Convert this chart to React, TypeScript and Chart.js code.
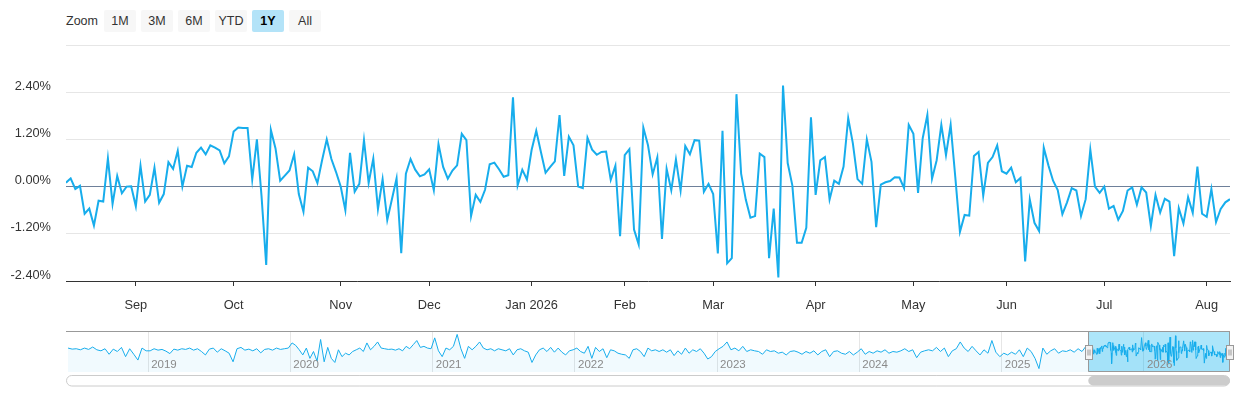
import { useEffect, useRef } from 'react';
import { Chart, registerables } from 'chart.js';

Chart.register(...registerables);

// ---------- data ----------
const START_DATE = '2025-08-11';
const HOLIDAYS = [
  '2025-09-01', '2025-11-27', '2025-12-25', '2026-01-01', '2026-01-19',
  '2026-02-16', '2026-04-03', '2026-05-25', '2026-06-19', '2026-07-03',
];

// daily returns (%), one per trading day from START_DATE
const RETURNS = [
  0.10, 0.21, -0.06, 0.02, -0.69, -0.56, -0.99, -0.36, -0.38, 0.72,
  -0.44, 0.27, -0.17, 0.00, 0.01, -0.50, 0.53, -0.38, -0.21, 0.48,
  -0.41, -0.19, 0.62, 0.45, 0.91, 0.00, 0.53, 0.50, 0.86, 0.99,
  0.82, 1.05, 0.99, 0.92, 0.59, 0.77, 1.40, 1.50, 1.49, 1.49,
  0.18, 1.20, -0.25, -1.99, 1.44, 0.97, 0.15, 0.28, 0.41, 0.82,
  -0.19, -0.64, 0.48, 0.39, 0.09, 0.67, 1.20, 0.70, 0.37, 0.00,
  -0.60, 0.86, -0.13, 0.07,
  1.18, 0.09, 0.71, -0.57, 0.19, -0.85, -0.32, 0.21, -1.69, 0.33,
  0.70, 0.43, 0.26, 0.31, 0.44, -0.09, 1.08, 0.50, 0.20, 0.41,
  0.54, 1.34, 1.18, -0.75, -0.21, -0.39, -0.08, 0.57, 0.61, 0.44,
  0.25, 0.29, 2.27, 0.03, 0.43, 0.18, 0.93, 1.42, 0.88, 0.35,
  0.50, 0.64, 1.82, 0.27, 1.27, 1.05, 0.00, -0.04, 1.24, 0.94,
  0.81, 0.88, 0.89, 0.17, 0.53, -1.26, 0.80, 0.95, -1.09, -1.47,
  1.50, 1.05,
  0.31, 0.74, -1.33, 0.45, -0.09, 0.69, -0.10, 1.03, 0.82, 1.18,
  1.17, -0.13, 0.07, -0.19, -1.70, 1.42, -1.95, -1.82, 2.35, 0.33,
  -0.33, -0.79, -0.75, 0.84, 0.75, -1.82, -0.56, -2.31, 2.57, 0.60,
  0.03, -1.43, -1.43, -1.05, 1.76, -0.21, 0.67, 0.75, -0.33, 0.15,
  0.07, 0.51, 1.74, 1.10, 0.19, 0.07, 1.20, 0.63, -1.03, 0.05,
  0.11, 0.14, 0.24, 0.23, -0.04, 1.57, 1.34, -0.16, 1.23, 1.82,
  0.20, 0.67,
  1.57, 0.80, 1.57, 0.24, -1.15, -0.72, -0.74, 0.78, 0.88, -0.23,
  0.60, 0.75, 1.05, 0.39, 0.33, 0.48, 0.11, 0.22, -1.90, -0.33,
  -0.92, -1.13, 0.99, 0.54, 0.15, -0.09, -0.70, -0.40, -0.04, -0.10,
  -0.75, -0.32, 0.94, 0.00, -0.16, 0.00, -0.56, -0.49, -0.84, -0.62,
  -0.10, -0.02, -0.46, -0.02, -0.15, -1.00, -0.21, -0.66, -0.31, -0.38,
  -1.77, -0.55, -0.94, -0.27, -0.67, 0.51, -0.69, -0.77, -0.06, -0.90,
  -0.57, -0.40, -0.32,
];

const Y_TICKS = [-2.4, -1.2, 0, 1.2, 2.4, 3.6];
const Y_MIN = -2.4;
const Y_MAX = 3.6;
const MONTH_NAMES = ['Jan', 'Feb', 'Mar', 'Apr', 'May', 'Jun', 'Jul', 'Aug', 'Sep', 'Oct', 'Nov', 'Dec'];

const ZOOM_BUTTONS = ['1M', '3M', '6M', 'YTD', '1Y', 'All'];
const SELECTED_BUTTON = '1Y';

// navigator history (sampled, %), per calendar year before the 1Y window
const NAV_START = '2018-06-04';
const NAV_2018 = [0.56, 0.39, 0.45, 0.28, 0.56, 0.34, 0.73, 0.28, 0.11, 0.45, -0.45, 0.39, 0.0, 0.67, -0.84, 0.45, -0.45, -1.40, 0.56, 0.11];
const NAV_2019 = [0.11, 0.45, 0.22, 0.34, 0.06, -0.34, 0.39, 0.22, 0.45, 0.34, 0.56, 0.22, 0.45, 0.0, -0.56, 0.39, 0.56, -0.11, 0.45, 0.11, -0.28, -1.68, 0.45, 0.67, 0.22, 0.39, 0.11, 0.45, -0.22, 0.34, 0.45, 0.22, 0.56, 0.34, 0.45, 0.56];
const NAV_2020 = [1.40, 1.01, 0.28, -0.56, 0.56, -1.12, 0.0, -1.56, 1.96, -1.68, 0.67, -1.12, -1.79, 0.28, -0.84, -0.28, -0.56, 0.0, 0.28, 0.56, 0.0, 1.40, 0.28, 0.84, 1.56, 0.56, 0.45, 0.34, 0.39, 0.22, 0.45, 0.11, 0.84, 0.45, 1.12, 1.79, 0.67, 0.84, 0.56, 0.45];
const NAV_2021 = [2.23, 0.11, -0.84, 0.56, 0.28, 0.84, 2.79, 0.45, -1.12, 0.84, 0.28, 0.84, 1.56, 0.56, 0.28, 0.45, 0.11, 0.45, 0.28, 0.11, 0.45, -0.56, 0.28, 0.45, 0.11, -0.11, -1.79, -0.56, 0.28, 0.56, 0.0, 0.67, -0.11, 0.56, -0.11, -0.56, 0.11, 0.28];
const NAV_2022 = [0.56, 0.0, -0.28, 0.84, -1.12, 0.67, 0.0, 0.45, -1.01, 0.28, 0.11, -0.28, -0.45, -0.56, -1.12, 0.28, 0.45, 0.0, -0.84, 0.56, 0.11, 0.28, 0.0, 0.28, -0.11, 0.28, -0.67, 0.11, -0.45, 0.56, -0.28, 0.28, 0.0, 0.45, -0.28, -1.23, -0.84, 0.0];
const NAV_2023 = [0.45, 0.84, 1.56, 0.28, 0.56, 0.11, 0.84, 0.0, 0.28, 0.11, 0.0, -0.45, 0.28, 0.0, 0.11, -0.28, -0.11, -0.56, 0.0, 0.11, -0.11, -0.45, 0.0, -0.28, 0.11, -0.56, 0.0, 0.28, -0.84, 0.0, 0.11, -0.28, -0.45, 0.0, -0.56, -0.11];
const NAV_2024 = [0.45, -0.45, 0.0, -0.28, 0.11, -0.11, 0.28, -0.28, 0.0, -0.11, 0.11, 0.45, 0.0, 0.28, -1.01, -0.11, 0.11, 0.28, 0.11, 0.67, 0.0, 0.56, -0.84, 0.11, 0.45, 1.56, 0.56, 0.0, 0.84, 0.11, -0.56, 0.28, -0.28, 1.79, -0.11, -0.84];
const NAV_2025 = [-0.28, -0.56, -0.11, -0.45, 0.28, -0.84, 0.56, 0.0, -1.12, -2.79, 0.56, -0.45, 0.11, 0.45, -0.28, 0.11, 0.0, 0.28, -0.11, 0.45, 0.0, 0.84];
const NAV_SEGMENT_YEARS = [2018, 2019, 2020, 2021, 2022, 2023, 2024, 2025];
const NAV_YEAR_LINES = [2019, 2020, 2021, 2022, 2023, 2024, 2025, 2026];

// ---------- styles ----------
const FONT = '"Liberation Sans", Arial, Helvetica, sans-serif';
const LINE_COLOR = '#17adec';
const GRID_COLOR = '#e6e6e6';
const ZERO_COLOR = '#6e809a';
const AXIS_COLOR = '#333333';
const LABEL_COLOR = '#333333';
const MASK_COLOR = 'rgba(0,176,240,0.32)';
const SELECTED_BG = '#b3e3f8';

const DAY = 86400000;

function tradingDays(start: string, count: number, holidays: string[]): Date[] {
  const out: Date[] = [];
  const hs = new Set(holidays);
  const d = new Date(start + 'T00:00:00Z');
  while (out.length < count) {
    const dow = d.getUTCDay();
    const iso = d.toISOString().slice(0, 10);
    if (dow !== 0 && dow !== 6 && !hs.has(iso)) out.push(new Date(d.getTime()));
    d.setUTCDate(d.getUTCDate() + 1);
  }
  return out;
}

export default function App() {
  const mainRef = useRef<HTMLCanvasElement>(null);
  const navRef = useRef<HTMLCanvasElement>(null);

  useEffect(() => {
    Chart.defaults.font.family = FONT;
    const dates = tradingDays(START_DATE, RETURNS.length, HOLIDAYS);

    const monthTicks: { value: number; label: string }[] = [];
    dates.forEach((d, i) => {
      if (i > 0 && d.getUTCMonth() !== dates[i - 1].getUTCMonth()) {
        const m = d.getUTCMonth();
        monthTicks.push({ value: i, label: MONTH_NAMES[m] + (m === 0 ? ' ' + d.getUTCFullYear() : '') });
      }
    });

    const main = new Chart(mainRef.current!, {
      type: 'line',
      data: {
        datasets: [{
          data: RETURNS.map((v, i) => ({ x: i, y: v })),
          borderColor: LINE_COLOR,
          borderWidth: 2,
          pointRadius: 0,
          tension: 0,
          fill: false,
        }],
      },
      options: {
        animation: false,
        responsive: true,
        maintainAspectRatio: false,
        layout: { padding: { left: 0, right: 10, top: 45, bottom: 0 } },
        plugins: { legend: { display: false }, tooltip: { enabled: false } },
        scales: {
          x: {
            type: 'linear',
            min: 0,
            max: RETURNS.length - 1,
            afterBuildTicks: (s: any) => { s.ticks = monthTicks.map(t => ({ value: t.value })); },
            afterFit: (s: any) => { s.height = 39; },
            grid: { display: true, drawOnChartArea: false, drawTicks: true, tickLength: 5, color: AXIS_COLOR },
            border: { display: true, color: AXIS_COLOR, width: 1 },
            ticks: {
              autoSkip: false,
              maxRotation: 0,
              padding: 12,
              color: LABEL_COLOR,
              font: { size: 12.8, family: FONT },
              callback: (v: any) => { const t = monthTicks.find(m => m.value === v); return t ? t.label : ''; },
            },
          },
          y: {
            min: Y_MIN,
            max: Y_MAX,
            afterBuildTicks: (s: any) => { s.ticks = Y_TICKS.map(v => ({ value: v })); },
            afterFit: (s: any) => { s.width = 66; },
            grid: {
              drawTicks: false,
              color: (ctx: any) => (Math.abs(ctx.tick.value) < 1e-9 ? ZERO_COLOR : GRID_COLOR),
              lineWidth: 1,
            },
            border: { display: false },
            ticks: {
              padding: 15,
              labelOffset: -6,
              color: LABEL_COLOR,
              font: { size: 12.8, family: FONT },
              callback: (v: any) => (Math.abs(v - Y_MAX) < 1e-9 ? '' : Number(v).toFixed(2) + '%'),
            },
          },
        },
      },
    });

    // ----- navigator -----
    const navPoints: { x: number; y: number }[] = [];
    const segs = [NAV_2018, NAV_2019, NAV_2020, NAV_2021, NAV_2022, NAV_2023, NAV_2024, NAV_2025];
    segs.forEach((vals, k) => {
      const yr = NAV_SEGMENT_YEARS[k];
      const from = k === 0 ? Date.parse(NAV_START + 'T00:00:00Z') : Date.UTC(yr, 0, 1);
      const to = k === segs.length - 1 ? dates[0].getTime() - DAY : Date.UTC(yr + 1, 0, 1);
      vals.forEach((v, i) => navPoints.push({ x: from + ((i + 0.5) / vals.length) * (to - from), y: v }));
    });
    dates.forEach((d, i) => navPoints.push({ x: d.getTime(), y: RETURNS[i] }));

    const navMinX = Date.parse(NAV_START + 'T00:00:00Z');
    const navMaxX = dates[dates.length - 1].getTime();
    const ys = navPoints.map(p => p.y);
    const dMin = Math.min(...ys);
    const dMax = Math.max(...ys);
    const pad = (dMax - dMin) * 0.1;
    const maskFrom = dates[0].getTime();
    const maskTo = navMaxX;

    const navDecor = {
      id: 'navDecor',
      beforeDatasetsDraw(chart: any) {
        const { ctx, chartArea: a, scales } = chart;
        const x0 = scales.x.getPixelForValue(maskFrom);
        const x1 = scales.x.getPixelForValue(maskTo);
        ctx.save();
        ctx.fillStyle = MASK_COLOR;
        ctx.fillRect(x0, a.top, x1 - x0, a.bottom - a.top);
        ctx.restore();
      },
      afterDatasetsDraw(chart: any) {
        const { ctx, chartArea: a, scales } = chart;
        ctx.save();
        // year labels
        ctx.fillStyle = '#8a8a8a';
        ctx.font = '11.5px ' + FONT;
        ctx.textBaseline = 'alphabetic';
        ctx.textAlign = 'left';
        NAV_YEAR_LINES.forEach(y => {
          const x = scales.x.getPixelForValue(Date.UTC(y, 0, 1));
          ctx.fillText(String(y), x + 3, a.bottom - 4);
        });
        // outline
        const x0 = Math.round(scales.x.getPixelForValue(maskFrom)) + 0.5;
        const x1 = Math.round(scales.x.getPixelForValue(maskTo)) - 0.5;
        const top = Math.round(a.top) + 0.5;
        const bot = Math.round(a.bottom) - 0.5;
        ctx.strokeStyle = '#999999';
        ctx.lineWidth = 1;
        ctx.beginPath();
        ctx.moveTo(a.left, top);
        ctx.lineTo(a.right, top);
        ctx.moveTo(x0, top);
        ctx.lineTo(x0, bot);
        ctx.lineTo(x1, bot);
        ctx.lineTo(x1, top);
        ctx.stroke();
        // handles
        const mid = (a.top + a.bottom) / 2;
        [x0, x1].forEach(x => {
          const hx = Math.round(x - 4) + 0.5;
          const hy = Math.round(mid - 7) + 0.5;
          ctx.fillStyle = '#f2f2f2';
          ctx.fillRect(hx, hy, 7, 14);
          ctx.strokeRect(hx, hy, 7, 14);
          ctx.beginPath();
          ctx.moveTo(hx + 2.5, hy + 4);
          ctx.lineTo(hx + 2.5, hy + 10);
          ctx.moveTo(hx + 4.5, hy + 4);
          ctx.lineTo(hx + 4.5, hy + 10);
          ctx.stroke();
        });
        ctx.restore();
      },
      afterDraw(chart: any) {
        const { ctx, chartArea: a, scales } = chart;
        const x0 = scales.x.getPixelForValue(maskFrom);
        const x1 = scales.x.getPixelForValue(maskTo);
        const ty = a.bottom + 3.5;
        const th = 10.5;
        ctx.save();
        ctx.beginPath();
        ctx.roundRect(a.left + 0.5, ty, a.right - a.left - 1, th, th / 2);
        ctx.fillStyle = '#ffffff';
        ctx.fill();
        ctx.strokeStyle = '#cccccc';
        ctx.lineWidth = 1;
        ctx.stroke();
        ctx.beginPath();
        ctx.roundRect(x0, ty + 0.5, x1 - x0, th - 1, (th - 1) / 2);
        ctx.fillStyle = '#cccccc';
        ctx.fill();
        ctx.restore();
      },
    };

    const nav = new Chart(navRef.current!, {
      type: 'line',
      data: {
        datasets: [{
          data: navPoints,
          borderColor: LINE_COLOR,
          borderWidth: 1,
          pointRadius: 0,
          tension: 0,
          fill: 'start',
          backgroundColor: 'rgba(23,173,236,0.06)',
        }],
      },
      options: {
        animation: false,
        responsive: true,
        maintainAspectRatio: false,
        layout: { padding: { left: 66, right: 10, top: 6, bottom: 23 } },
        plugins: { legend: { display: false }, tooltip: { enabled: false } },
        scales: {
          x: {
            type: 'linear',
            min: navMinX,
            max: navMaxX,
            afterBuildTicks: (s: any) => { s.ticks = NAV_YEAR_LINES.map(y => ({ value: Date.UTC(y, 0, 1) })); },
            afterFit: (s: any) => { s.height = 0; },
            grid: { display: true, drawOnChartArea: true, drawTicks: false, color: GRID_COLOR },
            border: { display: false },
            ticks: { display: false },
          },
          y: {
            display: false,
            min: dMin - pad,
            max: dMax + pad,
          },
        },
      },
      plugins: [navDecor],
    });

    return () => {
      main.destroy();
      nav.destroy();
    };
  }, []);

  return (
    <div style={{ position: 'absolute', left: 0, top: 0, width: 1240, height: 400, background: '#ffffff', fontFamily: FONT }}>
      <div style={{ position: 'absolute', left: 66, top: 10, height: 22, lineHeight: '22px', fontSize: 12.5, color: '#333333' }}>Zoom</div>
      {ZOOM_BUTTONS.map((b, i) => {
        const sel = b === SELECTED_BUTTON;
        return (
          <div
            key={b}
            style={{
              position: 'absolute',
              left: 104 + i * 37,
              top: 10,
              width: 32,
              height: 22,
              lineHeight: '22px',
              textAlign: 'center',
              borderRadius: 2,
              background: sel ? SELECTED_BG : '#f7f7f7',
              color: sel ? '#000000' : '#333333',
              fontWeight: sel ? 'bold' : 'normal',
              fontSize: 12.5,
            }}
          >
            {b}
          </div>
        );
      })}
      <div style={{ position: 'absolute', left: 0, top: 0, width: 1240, height: 320 }}>
        <canvas ref={mainRef} />
      </div>
      <div style={{ position: 'absolute', left: 0, top: 325, width: 1240, height: 70 }}>
        <canvas ref={navRef} />
      </div>
    </div>
  );
}
